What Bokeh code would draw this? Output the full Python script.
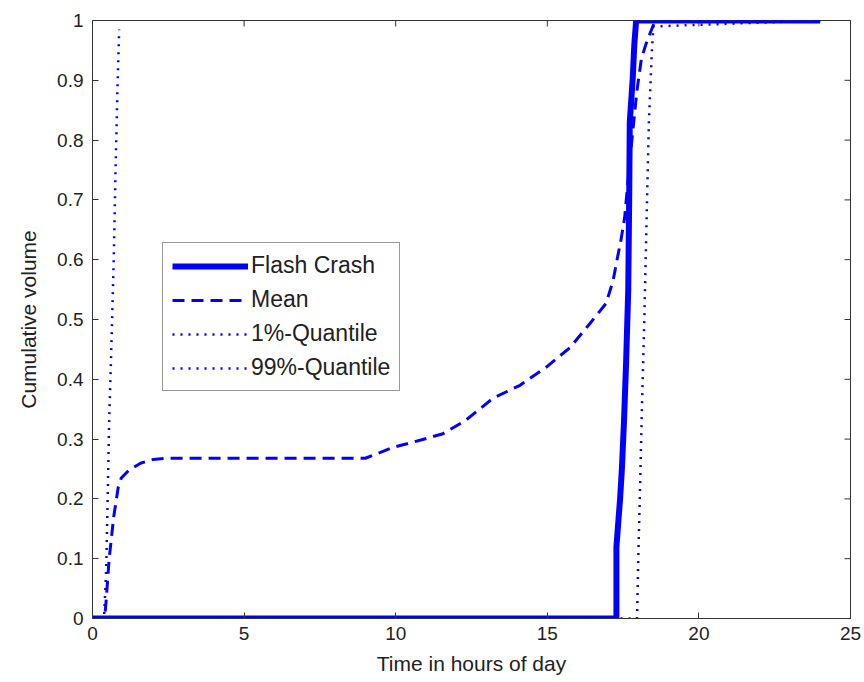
import math
from bokeh.plotting import figure
from bokeh.models import Legend, LegendItem, FixedTicker, Range1d
from bokeh.embed import file_html
from bokeh.resources import INLINE

# ---- data ----
flash_x = [0, 17.28, 17.28, 17.40, 17.46, 17.53, 17.60, 17.67, 17.70, 17.72, 17.82, 17.87, 17.93, 24.0]
flash_y = [0, 0.00, 0.12, 0.20, 0.25, 0.33, 0.43, 0.55, 0.70, 0.83, 0.905, 0.96, 1.00, 1.00]

mean_x = [0, 0.40, 0.45, 0.55, 0.70, 0.85, 0.95, 1.20, 1.60, 2.00, 2.50, 9.00, 9.35, 9.90,
          10.80, 11.56, 12.30, 13.20, 14.10, 14.96, 15.75, 16.40, 16.94, 17.17, 17.30,
          17.42, 17.55, 17.75, 17.95, 18.10, 18.25, 18.40, 18.52, 18.60, 24.0]
mean_y = [0, 0.00, 0.03, 0.10, 0.17, 0.22, 0.235, 0.248, 0.26, 0.266, 0.268, 0.268, 0.275, 0.286,
          0.298, 0.309, 0.331, 0.368, 0.390, 0.420, 0.453, 0.493, 0.527, 0.565, 0.60,
          0.63, 0.67, 0.78, 0.88, 0.935, 0.96, 0.98, 0.995, 1.00, 1.00]

q01_x = [0, 0.38, 0.45, 0.50, 0.55, 0.62, 0.70, 0.76, 0.82, 0.88]
q01_y = [0, 0.00, 0.08, 0.20, 0.33, 0.45, 0.60, 0.75, 0.88, 0.985]

q99_x = [0, 17.96, 18.00, 18.05, 18.12, 18.20, 18.28, 18.35, 18.45, 18.50, 24.0]
q99_y = [0, 0.00, 0.10, 0.20, 0.35, 0.50, 0.68, 0.83, 0.95, 0.99, 1.00]

x_ticks = [0, 5, 10, 15, 20, 25]
y_ticks = [0, 0.1, 0.2, 0.3, 0.4, 0.5, 0.6, 0.7, 0.8, 0.9, 1]
series_names = ["Flash Crash", "Mean", "1%-Quantile", "99%-Quantile"]
x_label = "Time in hours of day"
y_label = "Cumulative volume"

X_MIN, X_MAX = 0, 25
Y_MIN, Y_MAX = 0, 1

BLUE = "#0000FF"
INK = "#222222"
AX = "#333333"
FONT = "Liberation Sans"

p = figure(width=864, height=682, x_range=Range1d(X_MIN, X_MAX), y_range=Range1d(Y_MIN, Y_MAX),
           output_backend="svg", toolbar_location=None,
           min_border_left=92, min_border_right=14, min_border_top=20, min_border_bottom=64)
p.background_fill_color = "white"
p.border_fill_color = "white"
p.xgrid.visible = False
p.ygrid.visible = False
p.outline_line_color = AX
p.outline_line_width = 1

xb = p.xaxis[0]
yl = p.yaxis[0]
for ax, ticks, standoff in ((xb, x_ticks, 8), (yl, y_ticks, 9)):
    ax.ticker = FixedTicker(ticks=ticks)
    ax.axis_line_color = AX
    ax.major_tick_line_color = AX
    ax.major_tick_in = 6
    ax.major_tick_out = 0
    ax.minor_tick_line_color = None
    ax.major_label_text_font = FONT
    ax.major_label_text_font_size = "19px"
    ax.major_label_text_color = INK
    ax.major_label_standoff = standoff
    ax.axis_label_text_font = FONT
    ax.axis_label_text_font_size = "21px"
    ax.axis_label_text_font_style = "normal"
    ax.axis_label_text_color = INK
yl.major_label_overrides = {0: "0", 1: "1"}
xb.axis_label = x_label
yl.axis_label = y_label
xb.axis_label_standoff = 9
yl.axis_label_standoff = 14

# mirrored inward ticks on the top and right box edges (MATLAB style)
p.scatter(x=x_ticks, y=[Y_MAX] * len(x_ticks), marker="dash", size=12, angle=math.pi / 2,
          line_color=AX, line_width=1)
p.scatter(x=[X_MAX] * len(y_ticks), y=y_ticks, marker="dash", size=12,
          line_color=AX, line_width=1)

r_flash = p.line(flash_x, flash_y, line_color=BLUE, line_width=6, line_join="miter")
r_mean = p.line(mean_x, mean_y, line_color=BLUE, line_width=3, line_dash="12 7")
r_q01 = p.line(q01_x, q01_y, line_color=BLUE, line_width=2.5, line_dash="2 6")
r_q99 = p.line(q99_x, q99_y, line_color=BLUE, line_width=2.5, line_dash="2 6")

legend = Legend(items=[LegendItem(label=n, renderers=[r]) for n, r in
                       zip(series_names, [r_flash, r_mean, r_q01, r_q99])],
                location=(70, 227))
legend.label_text_font = FONT
legend.label_text_font_size = "23px"
legend.label_text_color = INK
legend.glyph_width = 76
legend.glyph_height = 26
legend.label_height = 26
legend.label_standoff = 3
legend.spacing = 7
legend.padding = 9
legend.margin = 0
legend.border_line_color = AX
legend.border_line_width = 1
legend.background_fill_color = "white"
legend.background_fill_alpha = 1.0
p.add_layout(legend, "center")

open("out.html", "w").write(file_html(p, INLINE))
